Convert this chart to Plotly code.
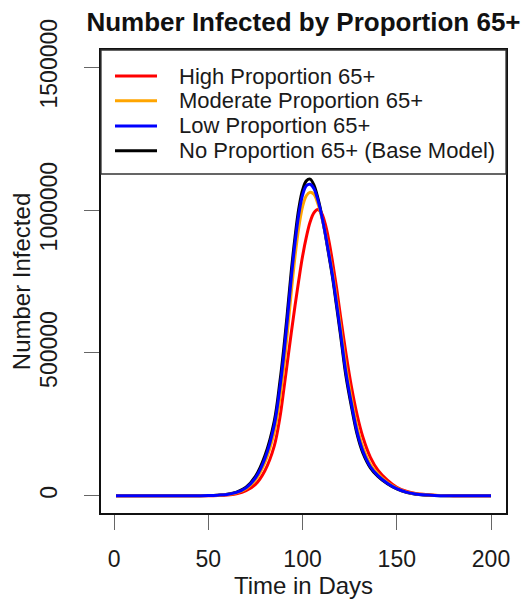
import plotly.graph_objects as go

# ---- data ----
days = [1, 20, 30, 40, 50, 55, 60, 65, 70, 75, 80, 85, 88, 90, 92, 94, 96, 98, 100,
        102, 104, 106, 108, 110, 112, 114, 116, 118, 120, 123, 126, 129, 132, 136,
        140, 145, 150, 155, 160, 170, 180, 190, 200]

# thousands of infected
base_k = [0, 0.01, 0.05, 0.25, 1.2, 2.5, 5.5, 13, 30, 68, 140, 262, 400, 513, 645, 785,
          905, 1005, 1070, 1102, 1108, 1088, 1045, 988, 918, 840, 760, 666, 570, 420,
          310, 214, 150, 98, 68, 42, 24, 12, 6, 1.5, 0.4, 0.1, 0.03]
low_k = [0, 0.01, 0.04, 0.22, 1.1, 2.3, 5, 12, 28, 63, 130, 248, 380, 490, 622, 762,
         885, 985, 1052, 1085, 1090, 1075, 1038, 985, 920, 845, 767, 675, 580, 432,
         320, 222, 157, 102, 71, 44, 25, 13, 6.5, 1.6, 0.4, 0.1, 0.03]
moderate_k = [0, 0.01, 0.03, 0.18, 0.9, 2, 4.4, 10.5, 25, 56, 117, 225, 345, 448, 575,
              712, 838, 940, 1012, 1050, 1062, 1055, 1025, 980, 922, 852, 778, 690, 598,
              452, 338, 238, 170, 110, 76, 47, 27, 14, 7, 1.7, 0.45, 0.1, 0.03]
high_k = [0, 0.005, 0.02, 0.12, 0.6, 1.4, 3, 7.5, 18, 40, 88, 175, 275, 370, 470, 570,
          665, 755, 838, 905, 958, 990, 1002, 990, 952, 892, 815, 730, 635, 500,
          380, 282, 206, 135, 90, 55, 30, 16, 8, 2.2, 0.6, 0.15, 0.04]

series_names = ["High Proportion 65+", "Moderate Proportion 65+",
                "Low Proportion 65+", "No Proportion 65+ (Base Model)"]
series_vals = [high_k, moderate_k, low_k, base_k]
series_colors = ["#FF0000", "#FFA500", "#0000FF", "#000000"]

x_ticks = [0, 50, 100, 150, 200]
y_ticks = [0, 500000, 1000000, 1500000]

FONT = "Liberation Sans, Arial, Helvetica, sans-serif"

# page has an 8px body margin: the figure starts at (8, 8) of the window
OFF = 8
FIG_W, FIG_H = 529 - OFF, 599 - OFF
plot_left, plot_top, plot_w, plot_h = 101 - OFF, 50 - OFF, 405, 463


def px_x(page_x):
    return (page_x - OFF - plot_left) / plot_w


def px_y(page_y):
    return 1 - (page_y - OFF - plot_top) / plot_h


fig = go.Figure()
# draw order: base, high, moderate, low (low on top)
order = [3, 0, 1, 2]
for i in order:
    fig.add_trace(go.Scatter(
        x=days, y=[v * 1000 for v in series_vals[i]], mode="lines",
        name=series_names[i], line=dict(color=series_colors[i], width=3,
                                        shape="spline", smoothing=1.0),
        showlegend=False, hoverinfo="skip"))

# ---- R-style legend box over the top of the plot region ----
fig.add_shape(type="rect", xref="paper", yref="paper", x0=0, x1=1,
              y0=px_y(174), y1=1.0, line=dict(color="#333333", width=1.3),
              fillcolor="white", layer="above")
row_px = [76, 100.7, 126, 150.7]
for name, col, ypx in zip(series_names, series_colors, row_px):
    fig.add_shape(type="line", xref="paper", yref="paper",
                  x0=px_x(115), x1=px_x(157), y0=px_y(ypx), y1=px_y(ypx),
                  line=dict(color=col, width=3), layer="above")
    fig.add_annotation(xref="paper", yref="paper", x=px_x(177), y=px_y(ypx),
                       text=name, showarrow=False, xanchor="left", yanchor="middle",
                       font=dict(family=FONT, size=22, color="#1a1a1a"))

fig.update_layout(
    template="none",
    width=FIG_W, height=FIG_H,
    margin=dict(l=plot_left, r=FIG_W - plot_left - plot_w, t=plot_top,
                b=FIG_H - plot_top - plot_h, pad=0, autoexpand=False),
    paper_bgcolor="white", plot_bgcolor="white",
    font=dict(family=FONT, size=23, color="#1a1a1a"),
    title=dict(text="<b>Number Infected by Proportion 65+</b>",
               x=(303.5 - OFF) / FIG_W, xanchor="center", xref="container",
               y=1 - (22 - OFF) / FIG_H, yanchor="middle",
               font=dict(family=FONT, size=26, color="#111111")),
    xaxis=dict(range=[-6.96, 207.96], tickvals=x_ticks, ticktext=[str(t) for t in x_ticks],
               automargin=False, showgrid=False, zeroline=False, showline=True, mirror=True,
               linecolor="#111111", linewidth=1.5, ticks="outside", ticklen=15,
               tickcolor="#666666", tickwidth=1.2, ticklabelstandoff=10,
               title=dict(text="Time in Days", standoff=0, font=dict(size=24))),
    yaxis=dict(range=[-60000, 1560000], tickvals=y_ticks, ticktext=[str(t) for t in y_ticks],
               tickangle=-90, automargin=False, showgrid=False, zeroline=False, showline=True,
               mirror=True, linecolor="#111111", linewidth=1.5, ticks="outside", ticklen=15,
               tickcolor="#666666", tickwidth=1.2, ticklabelstandoff=18,
               title=dict(text="Number Infected", standoff=0, font=dict(size=24))),
)

fig.write_html("out.html")
